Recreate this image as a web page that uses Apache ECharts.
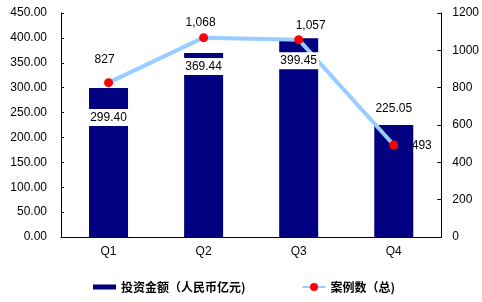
<!DOCTYPE html>
<html><head><meta charset="utf-8">
<script src="https://cdn.jsdelivr.net/npm/echarts@6/dist/echarts.min.js"></script>
<style>html,body{margin:0;padding:0;background:#fff}#c{width:482px;height:302px}</style>
</head><body><div id="c"></div>
<script>
var categories = ['Q1', 'Q2', 'Q3', 'Q4'];
var investment = [299.40, 369.44, 399.45, 225.05];
var cases = [827, 1068, 1057, 493];
var leftTicks = [0, 450, 50];
var rightTicks = [0, 1200, 200];
var barName = '投资金额（人民币亿元)';
var lineName = '案例数（总)';

var barLabelDist = [21, 5, 14, null];
var lineLabelOffset = [[-4, -8], [-3, 0], [12, 0], [28, 15]];

var font = '"Liberation Sans", Arial, sans-serif';
var chart = echarts.init(document.getElementById('c'));
chart.setOption({
  animation: false,
  grid: {left: 61, right: 38, top: 13, bottom: 65},
  legend: {
    left: 93, top: 281, padding: 0, itemGap: 56, itemWidth: 23, itemHeight: 10,
    textStyle: {fontFamily: '"Noto Sans CJK SC", sans-serif', fontSize: 12, fontWeight: 'bold', color: '#000'},
    data: [{name: barName, icon: 'path://M0,0H23V5H0Z'}, {name: lineName}]
  },
  xAxis: {
    type: 'category', data: categories,
    axisLine: {lineStyle: {color: '#000'}},
    axisTick: {inside: true, length: 4, lineStyle: {color: '#000'}},
    axisLabel: {color: '#000', fontFamily: font, fontSize: 12, margin: 9}
  },
  yAxis: [{
    type: 'value', min: leftTicks[0], max: leftTicks[1], interval: leftTicks[2],
    axisLine: {show: true, lineStyle: {color: '#000'}},
    axisTick: {show: true, inside: true, length: 3, lineStyle: {color: '#000'}},
    splitLine: {show: false},
    axisLabel: {color: '#000', fontFamily: font, fontSize: 12, margin: 14,
      formatter: function (v) { return v.toFixed(2); }}
  }, {
    type: 'value', min: rightTicks[0], max: rightTicks[1], interval: rightTicks[2],
    axisLine: {show: true, lineStyle: {color: '#000'}},
    axisTick: {show: true, inside: true, length: 4, lineStyle: {color: '#000'}},
    splitLine: {show: false},
    axisLabel: {color: '#000', fontFamily: font, fontSize: 12, margin: 11,
      formatter: function (v) { return String(v); }}
  }],
  series: [{
    name: barName, type: 'bar', data: investment, barWidth: 39, z: 2,
    itemStyle: {color: '#000080'}
  }, {
    name: lineName, type: 'line', yAxisIndex: 1, data: cases.map(function (v, i) {
      return {value: v, label: {offset: lineLabelOffset[i]}};
    }),
    z: 3,
    lineStyle: {color: '#99CCFF', width: 4},
    itemStyle: {color: '#FF0000'},
    symbol: 'circle', symbolSize: 9,
    label: {show: true, position: 'top', color: '#000', fontFamily: font, fontSize: 12, distance: 4,
      formatter: function (p) { return p.value.toLocaleString('en-US'); }}
  }, {
    name: 'labels', type: 'bar', data: investment.map(function (v, i) {
      var d = barLabelDist[i];
      return {value: v, label: d === null ? {position: 'top', distance: 8, backgroundColor: 'transparent'} : {position: 'insideTop', distance: d}};
    }),
    barWidth: 39, barGap: '-100%', z: 5, silent: true,
    itemStyle: {color: 'transparent'},
    label: {show: true, color: '#000', fontFamily: font, fontSize: 12, backgroundColor: '#fff', padding: [3, 2, 2, 2],
      formatter: function (p) { return p.value.toFixed(2); }}
  }]
});
</script></body></html>
